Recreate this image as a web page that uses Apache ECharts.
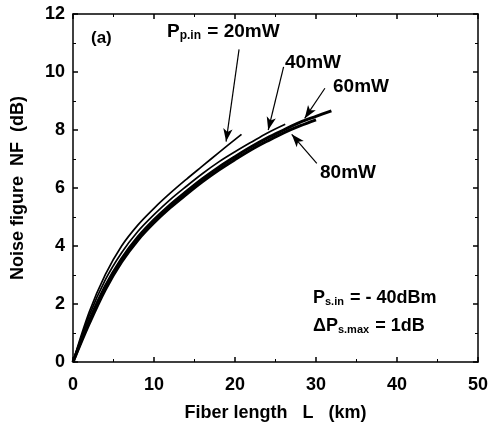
<!DOCTYPE html>
<html><head><meta charset="utf-8">
<script src="https://cdn.jsdelivr.net/npm/echarts@6/dist/echarts.min.js"></script>
<style>html,body{margin:0;padding:0;background:#fff}#c{width:489px;height:428px}</style>
</head><body><div id="c"></div>
<script>
const x20 = [0,2,4,6,8,10,12,14,16,18,20.8];
const nf20 = [0,1.72,3.02,4.0,4.72,5.3,5.82,6.3,6.76,7.22,7.85];
const x40 = [0,2,4,6,8,10,12,14,16,18,20,22,24,26.2];
const nf40 = [0,1.6,2.84,3.77,4.5,5.08,5.6,6.06,6.5,6.9,7.25,7.58,7.9,8.2];
const x60 = [0,2,4,6,8,10,12,14,16,18,20,22,24,26,28,30,31.9];
const nf60 = [0,1.42,2.62,3.56,4.3,4.9,5.42,5.88,6.32,6.72,7.08,7.42,7.73,8.0,8.26,8.47,8.66];
const x80 = [0,2,4,6,8,10,12,14,16,18,20,22,24,26,28,30];
const nf80 = [0,1.32,2.5,3.45,4.2,4.8,5.32,5.78,6.22,6.62,6.98,7.32,7.62,7.9,8.14,8.35];
const xTicks = [0,10,20,30,40,50];
const yTicks = [0,2,4,6,8,10,12];

const pairs = (xs, ys) => xs.map((x, i) => [x, ys[i]]);
const FONT = '"Liberation Sans", Arial, sans-serif';

function arrow(from, to) {
  return [{coord: from, symbol: 'none'}, {coord: to, symbol: 'arrow', symbolSize: [7, 13]}];
}

const chart = echarts.init(document.getElementById('c'), null, {renderer: 'canvas'});
const axisCommon = () => ({
  axisLine: {show: true, onZero: false, lineStyle: {color: '#000', width: 1.5}},
  axisTick: {show: true, inside: true, length: 5, lineStyle: {color: '#000', width: 1.5}},
  minorTick: {show: true, splitNumber: 2, length: 3, lineStyle: {color: '#000', width: 1}},
  splitLine: {show: false}
});
const lineSeries = (name, xs, ys, w) => ({
  type: 'line', name, data: pairs(xs, ys), smooth: 0.35, showSymbol: false,
  lineStyle: {color: '#000', width: w}
});
const s20 = lineSeries('20mW', x20, nf20, 1.7);
s20.markLine = {silent: true, symbol: ['none', 'arrow'], lineStyle: {color: '#000', width: 1.2, type: 'solid'},
  label: {show: false},
  data: [
    arrow([20.5, 10.78], [18.9, 7.6]),
    arrow([26.0, 10.18], [24.1, 8.0]),
    arrow([31.1, 9.44], [28.6, 8.4]),
    arrow([30.1, 6.85], [27.0, 7.85])
  ]};
chart.setOption({
  animation: false,
  backgroundColor: '#fff',
  grid: {left: 73, right: 11, top: 14, bottom: 66, containLabel: false, outerBoundsMode: 'none'},
  xAxis: [
    Object.assign({type: 'value', min: 0, max: 50, interval: 10, position: 'bottom',
      name: 'Fiber length   L   (km)', nameLocation: 'middle', nameGap: 42,
      nameTextStyle: {fontFamily: FONT, fontWeight: 'bold', fontSize: 18, color: '#000'},
      axisLabel: {fontFamily: FONT, fontWeight: 'bold', fontSize: 18, color: '#000', margin: 14,
        formatter: v => xTicks.includes(v) ? String(v) : ''}}, axisCommon()),
    Object.assign({type: 'value', min: 0, max: 50, interval: 10, position: 'top',
      axisLabel: {show: false}}, axisCommon())
  ],
  yAxis: [
    Object.assign({type: 'value', min: 0, max: 12, interval: 2, position: 'left',
      name: 'Noise figure  NF  (dB)', nameLocation: 'middle', nameGap: 46,
      nameTextStyle: {fontFamily: FONT, fontWeight: 'bold', fontSize: 18, color: '#000'},
      axisLabel: {fontFamily: FONT, fontWeight: 'bold', fontSize: 18, color: '#000', margin: 8,
        formatter: v => yTicks.includes(v) ? String(v) : ''}}, axisCommon()),
    Object.assign({type: 'value', min: 0, max: 12, interval: 2, position: 'right',
      axisLabel: {show: false}}, axisCommon())
  ],
  series: [
    s20,
    lineSeries('40mW', x40, nf40, 1.7),
    lineSeries('60mW', x60, nf60, 3),
    lineSeries('80mW', x80, nf80, 3)
  ],
  graphic: [
    {type: 'text', left: 91, top: 30, style: {text: '(a)', fontFamily: FONT, fontWeight: 'bold', fontSize: 17, fill: '#000'}},
    {type: 'text', left: 167, top: 22, style: {
      text: '{b|P}{s|p.in}{b| = 20mW}',
      rich: {b: {fontFamily: FONT, fontWeight: 'bold', fontSize: 19, fill: '#000'},
             s: {fontFamily: FONT, fontWeight: 'bold', fontSize: 12, fill: '#000', padding: [8, 1, 0, 0]}}}},
    {type: 'text', left: 285, top: 53, style: {text: '40mW', fontFamily: FONT, fontWeight: 'bold', fontSize: 19, fill: '#000'}},
    {type: 'text', left: 333, top: 77, style: {text: '60mW', fontFamily: FONT, fontWeight: 'bold', fontSize: 19, fill: '#000'}},
    {type: 'text', left: 320, top: 163, style: {text: '80mW', fontFamily: FONT, fontWeight: 'bold', fontSize: 19, fill: '#000'}},
    {type: 'text', left: 313, top: 289, style: {
      text: '{b|P}{s|s.in}{b| = - 40dBm}',
      rich: {b: {fontFamily: FONT, fontWeight: 'bold', fontSize: 18, fill: '#000'},
             s: {fontFamily: FONT, fontWeight: 'bold', fontSize: 11, fill: '#000', padding: [7, 1, 0, 0]}}}},
    {type: 'text', left: 313, top: 317, style: {
      text: '{b|ΔP}{s|s.max}{b| = 1dB}',
      rich: {b: {fontFamily: FONT, fontWeight: 'bold', fontSize: 18, fill: '#000'},
             s: {fontFamily: FONT, fontWeight: 'bold', fontSize: 11, fill: '#000', padding: [7, 1, 0, 0]}}}}
  ]
});
</script></body></html>
